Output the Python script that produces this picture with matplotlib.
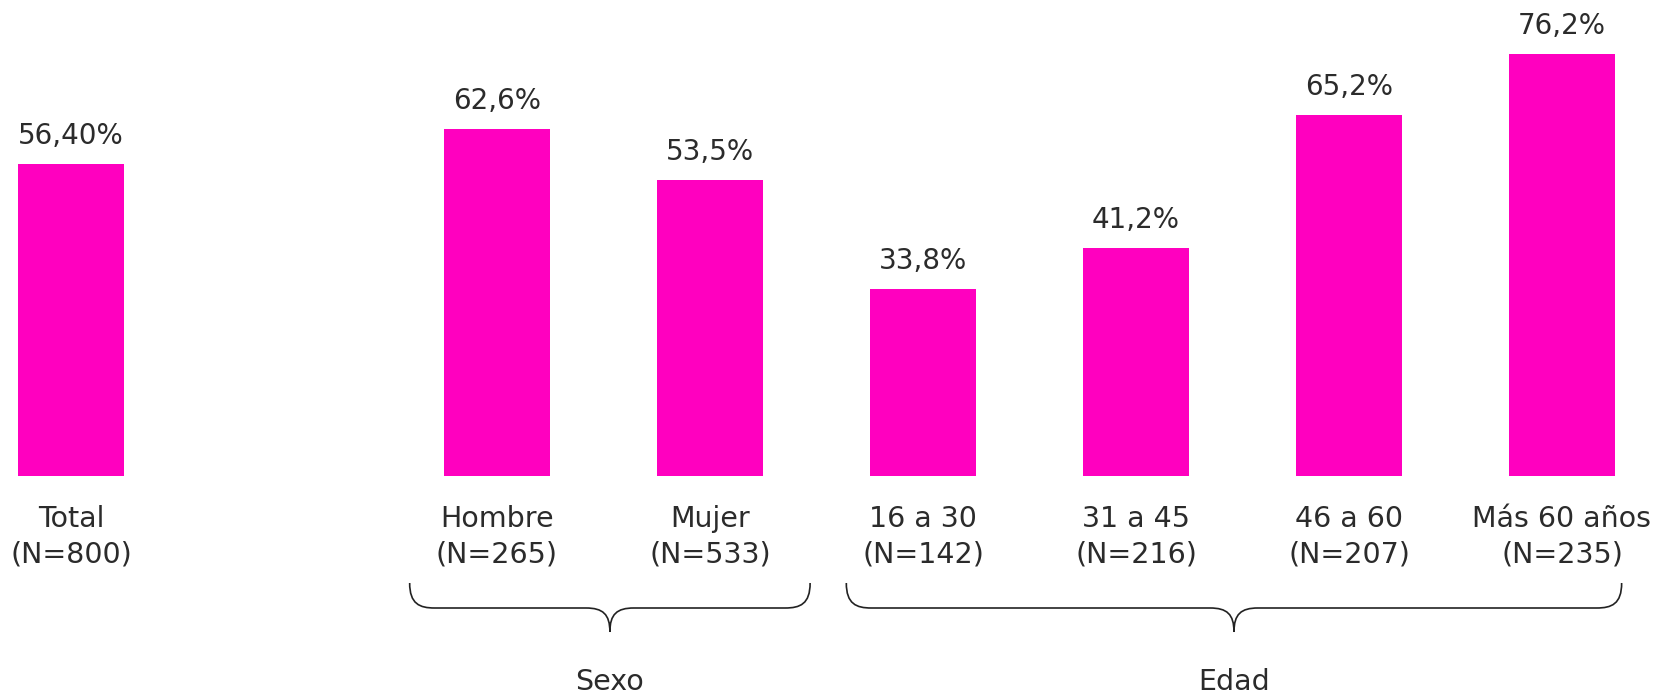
import matplotlib
matplotlib.use("Agg")
import matplotlib.pyplot as plt
from matplotlib.path import Path
from matplotlib.patches import PathPatch

plt.rcParams["font.family"] = "DejaVu Sans"

# data
categories = ["Total", "Hombre", "Mujer", "16 a 30", "31 a 45", "46 a 60", "Más 60 años"]
sample_sizes = ["(N=800)", "(N=265)", "(N=533)", "(N=142)", "(N=216)", "(N=207)", "(N=235)"]
values = [56.40, 62.6, 53.5, 33.8, 41.2, 65.2, 76.2]
value_labels = ["56,40%", "62,6%", "53,5%", "33,8%", "41,2%", "65,2%", "76,2%"]
groups = ["Sexo", "Edad"]
group_members = [(1, 2), (3, 6)]    # index range into categories

# layout
positions = [0, 2, 3, 4, 5, 6, 7]   # slot 1 left empty
brace_pad = [(0.41, 0.47), (0.36, 0.28)]  # left / right overhang of each brace
BAR_COLOR = "#FF00BF"
TEXT_COLOR = "#2b2b2b"
W, H = 1665, 696

fig = plt.figure(figsize=(W / 100, H / 100), dpi=100)

# main axes: baseline at 476 px from top, 5.54 px per percent
base_px = 476
px_per_pct = 5.538
slot_px = 213.0
first_px = 71.0
ax = fig.add_axes([0, 1 - base_px / H, 1, base_px / H])
ax.set_ylim(0, base_px / px_per_pct)
ax.set_xlim(-first_px / slot_px, (W - first_px) / slot_px)
ax.bar(positions, values, width=0.5, color=BAR_COLOR)
ax.axis("off")

for x, v, lab in zip(positions, values, value_labels):
    ax.annotate(lab, (x, v), xytext=(0, 14.5), textcoords="offset points",
                ha="center", va="baseline", fontsize=20, color=TEXT_COLOR)

# overlay in pixel y coords for labels and braces
ov = fig.add_axes([0, 0, 1, 1], zorder=-1)
ov.set_xlim(ax.get_xlim())
ov.set_ylim(H, 0)
ov.axis("off")

for x, name, n in zip(positions, categories, sample_sizes):
    ov.text(x, 527, name, ha="center", va="baseline", fontsize=20.5, color=TEXT_COLOR)
    ov.text(x, 563, n, ha="center", va="baseline", fontsize=20.5, color=TEXT_COLOR)


def brace(x0, x1, y_top=583, y_mid=608, y_tip=632):
    r = 25 / slot_px
    t = 24 / slot_px
    xm = (x0 + x1) / 2
    verts = [
        (x0, y_top), (x0, y_mid - 4), (x0 + r * 0.4, y_mid), (x0 + r, y_mid),
        (xm - t, y_mid),
        (xm - t * 0.3, y_mid), (xm, y_mid + 6), (xm, y_tip),
        (xm, y_mid + 6), (xm + t * 0.3, y_mid), (xm + t, y_mid),
        (x1 - r, y_mid),
        (x1 - r * 0.4, y_mid), (x1, y_mid - 4), (x1, y_top),
    ]
    codes = [Path.MOVETO, Path.CURVE4, Path.CURVE4, Path.CURVE4,
             Path.LINETO,
             Path.CURVE4, Path.CURVE4, Path.CURVE4,
             Path.CURVE4, Path.CURVE4, Path.CURVE4,
             Path.LINETO,
             Path.CURVE4, Path.CURVE4, Path.CURVE4]
    ov.add_patch(PathPatch(Path(verts, codes), fill=False, lw=1.2, edgecolor="#222222"))
    return xm


for g, (i0, i1), (pl, pr) in zip(groups, group_members, brace_pad):
    x0 = positions[i0] - pl
    x1 = positions[i1] + pr
    xm = brace(x0, x1)
    ov.text(xm, 690, g, ha="center", va="baseline", fontsize=20.5, color=TEXT_COLOR)

fig.savefig("out.png", dpi=100)
